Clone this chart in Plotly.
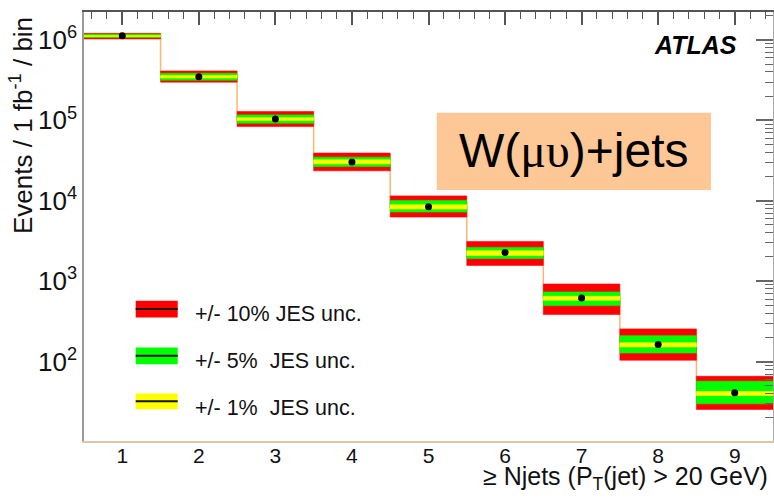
import plotly.graph_objects as go

# ---- data ----
njets = [1, 2, 3, 4, 5, 6, 7, 8, 9]
central = [1.13e6, 3.50e5, 1.04e5, 3.03e4, 8.41e3, 2.28e3, 618, 163, 40.8]
red_hi = [1.21e6, 4.12e5, 1.29e5, 3.92e4, 1.15e4, 3.12e3, 922, 255, 65.6]
red_lo = [1.03e6, 2.99e5, 8.38e4, 2.36e4, 6.28e3, 1.57e3, 384, 104, 25.4]
green_hi = [1.18e6, 3.85e5, 1.17e5, 3.49e4, 1.01e4, 2.63e3, 735, 210, 56.9]
green_lo = [1.07e6, 3.16e5, 9.22e4, 2.67e4, 7.24e3, 1.91e3, 497, 128, 29.8]
yel_hi = [1.14e6, 3.61e5, 1.08e5, 3.23e4, 8.91e3, 2.39e3, 648, 171, 42.4]
yel_lo = [1.10e6, 3.37e5, 9.95e4, 2.88e4, 7.89e3, 2.09e3, 578, 152, 37.8]
y_tickvals = [1e2, 1e3, 1e4, 1e5, 1e6]
y_ticktext = ["10<sup>2</sup>", "10<sup>3</sup>", "10<sup>4</sup>", "10<sup>5</sup>", "10<sup>6</sup>"]
legend_labels = ["+/- 10% JES unc.", "+/- 5%\u00a0\u00a0JES unc.", "+/- 1%\u00a0\u00a0JES unc."]
band_colors = ["#ff0000", "#00ff00", "#ffff00"]

FONT = "Liberation Sans, Arial, sans-serif"
X_RANGE = [0.5, 9.5]
Y_RANGE = [1.012, 6.348]


def band_trace(lo, hi, color):
    xs, ys = [], []
    for n, l, h in zip(njets, lo, hi):
        xs += [n - 0.5, n + 0.5, n + 0.5, n - 0.5, n - 0.5, None]
        ys += [l, l, h, h, l, None]
    return go.Scatter(x=xs, y=ys, mode="lines", fill="toself", fillcolor=color,
                      line=dict(width=0.6, color=color), hoverinfo="skip",
                      showlegend=False)


fig = go.Figure()

# histogram outline (step)
edges = [n - 0.5 for n in njets] + [njets[-1] + 0.5]
fig.add_trace(go.Scatter(x=edges, y=central + [central[-1]], mode="lines",
                         line=dict(shape="hv", color="#f6b878", width=1.5),
                         hoverinfo="skip", showlegend=False))

fig.add_trace(band_trace(red_lo, red_hi, band_colors[0]))
fig.add_trace(band_trace(green_lo, green_hi, band_colors[1]))
fig.add_trace(band_trace(yel_lo, yel_hi, band_colors[2]))

fig.add_trace(go.Scatter(x=njets, y=central, mode="markers",
                         marker=dict(color="black", size=7),
                         showlegend=False))

# dummy trace for the mirrored (top/right) tick axes
fig.add_trace(go.Scatter(x=[1], y=[100], xaxis="x2", yaxis="y2", mode="markers",
                         marker=dict(opacity=0), hoverinfo="skip", showlegend=False))

x_minor = [round(0.6 + 0.2 * i, 1) for i in range(45)]
x_minor = [v for v in x_minor if v < 9.5 and abs(v - round(v)) > 1e-6]
y_minor = [m * 10 ** e for e in range(1, 7) for m in range(2, 10)]

fig.update_layout(
    width=774, height=498,
    margin=dict(l=84, r=1, t=12, b=57),
    paper_bgcolor="white", plot_bgcolor="white",
    showlegend=False,
    font=dict(family=FONT, color="black"),
    xaxis=dict(range=X_RANGE, tickvals=njets, ticks="", showgrid=False,
               zeroline=False, showline=True, linecolor="#dcc7a4", linewidth=1.5,
               ticklabelstandoff=-5,
               tickfont=dict(size=21, family=FONT, color="#111")),
    yaxis=dict(type="log", range=Y_RANGE, tickvals=y_tickvals, ticktext=y_ticktext,
               ticks="", showgrid=False, zeroline=False, showline=True,
               linecolor="#9a9a9a", linewidth=1.5,
               tickfont=dict(size=26, family=FONT, color="#111")),
    xaxis2=dict(overlaying="x", side="top", anchor="y", range=X_RANGE,
                tickvals=njets, ticks="inside", ticklen=13, tickwidth=1.5,
                tickcolor="#555", showticklabels=False, showgrid=False,
                zeroline=False, showline=True, linecolor="#555", linewidth=1.5,
                minor=dict(tickvals=x_minor, ticks="inside", ticklen=7,
                           tickwidth=1.2, tickcolor="#555")),
    yaxis2=dict(overlaying="y", side="right", anchor="x", type="log", range=Y_RANGE,
                tickvals=y_tickvals, ticks="inside", ticklen=17, tickwidth=1.5,
                tickcolor="#666", showticklabels=False, showgrid=False,
                zeroline=False, showline=True, linecolor="#aaa", linewidth=1.5,
                minor=dict(tickvals=y_minor, ticks="inside", ticklen=8,
                           tickwidth=1.2, tickcolor="#666")),
)

# W(mu nu)+jets label box
fig.add_shape(type="rect", xref="paper", yref="paper", x0=0.512, x1=0.910,
              y0=0.585, y1=0.765, fillcolor="#fdc896", line=dict(width=0), layer="above")
fig.add_annotation(xref="paper", yref="paper", x=0.711, y=0.676,
                   text='W(<span style="font-family:Liberation Serif">\u03bc\u03c5</span>)+jets',
                   showarrow=False, font=dict(size=48, family=FONT, color="black"),
                   xanchor="center", yanchor="middle")

# ATLAS label
fig.add_annotation(xref="paper", yref="paper", x=0.887, y=0.924,
                   text="<b><i>ATLAS</i></b>", showarrow=False,
                   font=dict(size=25, family=FONT, color="black"),
                   xanchor="center", yanchor="middle")

# axis titles
fig.add_annotation(xref="paper", yref="paper", x=0.9956, y=-0.086,
                   text="\u2265 Njets (P<sub>T</sub>(jet) &gt; 20 GeV)", showarrow=False,
                   font=dict(size=25, family=FONT, color="#111"),
                   xanchor="right", yanchor="middle")
fig.add_annotation(xref="paper", yref="paper", x=-0.09, y=0.7366,
                   text="Events / 1 fb<sup>-1</sup> / bin", showarrow=False, textangle=-90,
                   font=dict(size=26, family=FONT, color="#111"),
                   xanchor="center", yanchor="middle")

# custom legend
sw_y = [(0.288, 0.327), (0.179, 0.218), (0.074, 0.111)]
txt_y = [0.296, 0.187, 0.078]
for (y0, y1), ty, col, lab in zip(sw_y, txt_y, band_colors, legend_labels):
    fig.add_shape(type="rect", xref="paper", yref="paper", x0=0.075, x1=0.136,
                  y0=y0, y1=y1, fillcolor=col, line=dict(width=0))
    ym = (y0 + y1) / 2
    fig.add_shape(type="line", xref="paper", yref="paper", x0=0.075, x1=0.136,
                  y0=ym, y1=ym, line=dict(color="#111", width=2))
    fig.add_annotation(xref="paper", yref="paper", x=0.1577, y=ty, text=lab,
                       showarrow=False, font=dict(size=21.5, family=FONT, color="#111"),
                       xanchor="left", yanchor="middle")

fig.write_html("out.html")
